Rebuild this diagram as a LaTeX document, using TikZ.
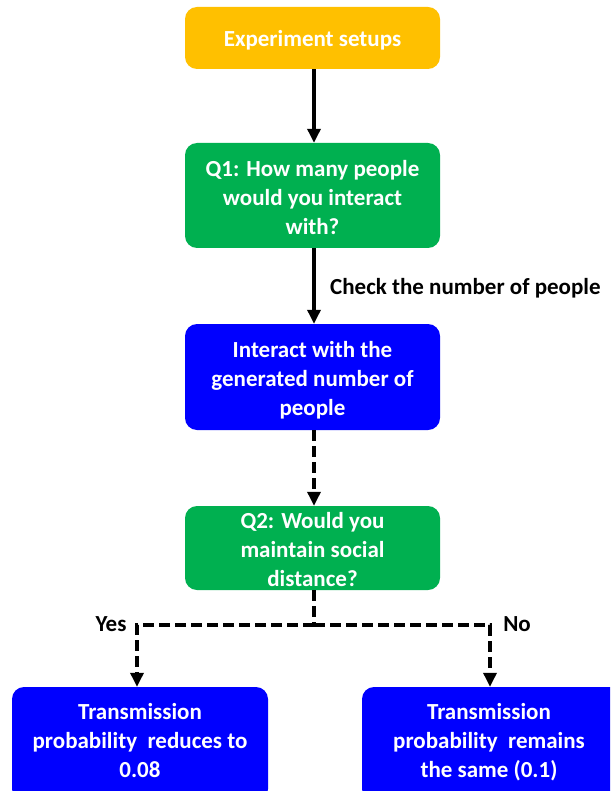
\documentclass[tikz,border=0pt]{standalone}
\usepackage{fontspec}
\setmainfont{Carlito}
\usetikzlibrary{arrows.meta}
\definecolor{orangebox}{HTML}{FFC000}
\definecolor{greenbox}{HTML}{00B050}
\definecolor{bluebox}{HTML}{0000FF}
\tikzset{
  boxstyle/.style={rounded corners=12pt, inner sep=0pt},
  boxtext/.style={inner sep=0pt, align=center, text=white,
    font=\fontsize{23}{29}\selectfont\bfseries},
  conn/.style={line width=3.3pt, -{Triangle[width=13pt,length=14pt]}},
  dashconn/.style={conn, dash pattern=on 11pt off 5pt},
  lbl/.style={font=\fontsize{23}{29}\selectfont\bfseries, text=black, inner sep=0pt}
}
\begin{document}
\begin{tikzpicture}[x=1pt,y=-1pt]
\useasboundingbox (0,0) rectangle (610,791);
\clip (0,0) rectangle (610,791);
\node[boxstyle, fill=orangebox, minimum width=255pt, minimum height=62pt] (setup) at (312.5,38) {};
\node[boxtext] (setupt) at ([yshift=-2.5pt]setup.center) {Experiment setups};
\node[boxstyle, fill=greenbox, minimum width=255pt, minimum height=105pt] (q1) at (312.5,195.5) {};
\node[boxtext] (q1t) at ([yshift=-2pt]q1.center) {Q1: How many people\\would you interact\\with?};
\node[boxstyle, fill=bluebox, minimum width=255pt, minimum height=106pt] (inter) at (312.5,377) {};
\node[boxtext] (intert) at ([yshift=-3pt]inter.center) {Interact with the\\generated number of\\people};
\node[boxstyle, fill=greenbox, minimum width=255pt, minimum height=84pt] (q2) at (312.5,548) {};
\node[boxtext] (q2t) at ([yshift=-2pt]q2.center) {Q2: Would you\\maintain social\\distance?};
\node[boxstyle, fill=bluebox, minimum width=256pt, minimum height=114pt] (left) at (140,744) {};
\node[boxtext, anchor=north] (lefttext) at (140,703) {Transmission\\probability~ reduces to\\0.08};
\node[boxstyle, fill=bluebox, minimum width=262pt, minimum height=114pt] (right) at (493,744) {};
\node[boxtext, anchor=north] (righttext) at (489,703) {Transmission\\probability~ remains\\the same (0.1)};
\coordinate (split) at (314,625);
\coordinate (lcorner) at (137,625);
\coordinate (rcorner) at (490,625);
\draw[conn] (setup.south -| 314,0) -- (q1.north -| 314,0);
\draw[conn] (q1.south -| 314,0) -- (inter.north -| 314,0);
\draw[dashconn] (inter.south -| 314,0) -- (q2.north -| 314,0);
\draw[dashconn, -] (q2.south -| 314,0) -- (split);
\draw[dashconn] (split) -- (lcorner) -- (lcorner |- left.north);
\draw[dashconn] (split) -- (rcorner) -- (rcorner |- right.north);
\node[lbl, anchor=west] (check) at (330,288) {Check the number of people};
\node[lbl] (yes) at (111,624) {Yes};
\node[lbl] (no) at (517,624) {No};
\end{tikzpicture}
\end{document}
